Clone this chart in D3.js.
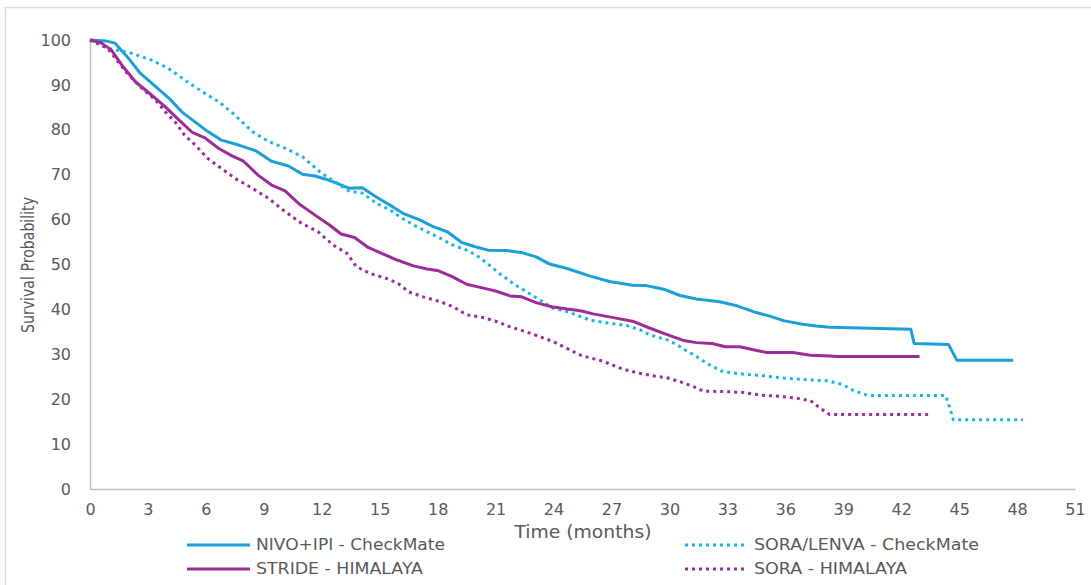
<!DOCTYPE html>
<html>
<head>
<meta charset="utf-8">
<script src="https://cdn.jsdelivr.net/npm/d3@7"></script>
<style>
  body { margin: 0; background: #fff; }
  text { font-family: "DejaVu Sans", "Noto Sans", sans-serif; fill: #595959; }
</style>
</head>
<body>
<div id="chart"></div>
<script>
// Kaplan-Meier curves (months, survival %)
const nivoMonths = [0, 0.8, 1.3, 2.0, 2.6, 3.4, 4.1, 4.75, 5.45, 6.1, 6.8, 7.7, 8.6, 9.4, 10.3, 11.0, 11.65, 12.2, 12.6, 13.4, 14.1, 14.8, 15.5, 16.2, 17.1, 17.8, 18.5, 19.25, 19.9, 20.6, 21.6, 22.4, 23.1, 23.8, 24.7, 25.9, 26.9, 28.1, 28.8, 29.7, 30.55, 31.4, 32.6, 33.5, 34.5, 35.2, 35.9, 36.9, 37.6, 38.3, 40.4, 42.5, 42.67, 44.45, 44.88, 47.8];
const nivoSurv = [100, 99.8, 99.3, 95.9, 92.6, 89.6, 87, 84, 81.7, 79.6, 77.7, 76.6, 75.3, 73, 71.9, 70.1, 69.7, 69, 68.4, 67, 67.1, 65.1, 63.3, 61.4, 59.9, 58.4, 57.3, 54.9, 54, 53.2, 53.1, 52.6, 51.7, 50.1, 49.1, 47.4, 46.2, 45.4, 45.3, 44.5, 43.1, 42.3, 41.7, 40.8, 39.3, 38.5, 37.5, 36.7, 36.3, 36, 35.8, 35.6, 32.4, 32.2, 28.7, 28.7];

const soraLenvaMonths = [0, 0.95, 2.2, 3.2, 4.05, 4.9, 5.8, 6.65, 7.5, 8.4, 9.25, 10.1, 11.0, 12.0, 13.4, 14.1, 14.85, 15.55, 16.05, 16.75, 17.45, 18.15, 18.8, 19.5, 20.0, 20.55, 21.2, 21.9, 22.6, 23.3, 24.0, 24.7, 25.4, 25.9, 26.9, 27.8, 28.5, 29.0, 29.9, 30.4, 30.8, 31.4, 32.1, 32.8, 33.8, 34.9, 35.9, 36.9, 38.2, 39.0, 39.5, 40.3, 44.3, 44.55, 44.7, 48.3];
const soraLenvaSurv = [100, 98.1, 97, 95.5, 93.7, 91.1, 88.5, 86.3, 83.3, 79.6, 77.4, 75.9, 74, 70.3, 66.4, 65.9, 63.6, 62.1, 60.6, 58.8, 57.3, 55.8, 54.3, 53.2, 52.1, 50.3, 48, 45.8, 43.9, 42.1, 40.2, 39.5, 38.4, 37.6, 36.9, 36.4, 35.4, 34.3, 33.2, 32.1, 31, 29.5, 27.6, 26.1, 25.6, 25.2, 24.7, 24.4, 24.1, 23.2, 22, 20.8, 20.8, 17.6, 15.4, 15.4];

const strideMonths = [0, 0.6, 1.1, 1.65, 2.35, 3.2, 3.9, 4.6, 5.3, 5.95, 6.65, 7.35, 7.95, 8.7, 9.4, 10.1, 10.8, 11.65, 12.4, 13.0, 13.7, 14.4, 15.1, 15.9, 16.75, 17.45, 18.05, 18.75, 19.5, 20.2, 21.0, 21.75, 22.35, 23.1, 23.9, 24.7, 25.4, 26.05, 27.3, 28.15, 29.0, 30.2, 30.8, 31.4, 32.2, 32.9, 33.65, 34.35, 35.05, 36.4, 37.3, 38.3, 38.7, 42.95];
const strideSurv = [100, 99.3, 97.8, 94.4, 90.7, 87.7, 85.1, 82.2, 79.4, 78.2, 75.9, 74.2, 73, 69.9, 67.7, 66.4, 63.6, 61, 58.8, 56.8, 56, 53.8, 52.5, 51, 49.7, 49, 48.6, 47.3, 45.6, 44.9, 44.1, 43, 42.8, 41.5, 40.6, 40.1, 39.7, 39, 38, 37.3, 35.8, 33.9, 33, 32.6, 32.4, 31.7, 31.7, 31, 30.4, 30.4, 29.8, 29.6, 29.5, 29.5];

const soraHimMonths = [0, 0.9, 1.45, 2.0, 2.7, 3.4, 3.9, 4.4, 4.9, 5.45, 6.1, 6.8, 7.5, 8.4, 9.25, 10.1, 10.95, 11.8, 12.6, 13.3, 13.8, 14.5, 15.35, 15.95, 16.5, 17.25, 18.15, 18.8, 19.5, 20.35, 21.05, 21.75, 22.6, 23.3, 24.0, 24.7, 25.4, 26.6, 27.45, 28.3, 29.15, 29.85, 30.55, 31.25, 31.75, 32.8, 33.85, 34.7, 35.55, 36.6, 37.3, 37.8, 38.3, 43.4];
const soraHimSurv = [100, 98.2, 95.2, 92.2, 89.2, 86.6, 84, 81.8, 78.8, 76.6, 73.6, 71.4, 69.2, 67, 64.7, 61.8, 59.2, 57.3, 54.3, 52.5, 49.5, 48, 46.9, 45.8, 43.9, 42.8, 41.7, 40.6, 38.8, 38.2, 37.3, 36.1, 35, 33.9, 32.8, 31.3, 29.8, 28.4, 26.9, 25.9, 25.2, 24.8, 23.9, 22.8, 21.8, 21.7, 21.5, 20.9, 20.7, 20.2, 19.7, 18, 16.6, 16.6];

const xTicks = d3.range(0, 52, 3);
const yTicks = d3.range(0, 101, 10);

const seriesNames = ["NIVO+IPI - CheckMate", "SORA/LENVA - CheckMate", "STRIDE - HIMALAYA", "SORA - HIMALAYA"];
const seriesColors = ["#1a9fd6", "#17b5ec", "#9d2b98", "#9d2b98"];
const seriesDotted = [false, true, false, true];

const width = 1091, height = 585;
const margin = { top: 40, right: 16, bottom: 96, left: 90 };

const svg = d3.select("#chart").append("svg")
  .attr("width", width)
  .attr("height", height);

// outer chart frame (only left and top edges are in view)
svg.append("path")
  .attr("d", `M5.5,${height} V7.5 H${width}`)
  .attr("fill", "none")
  .attr("stroke", "#d9d9d9")
  .attr("stroke-width", 1.5);

const x = d3.scaleLinear()
  .domain([0, 51])
  .range([margin.left, width - margin.right]);

const y = d3.scaleLinear()
  .domain([0, 100])
  .range([height - margin.bottom, margin.top]);

// x axis
const xAxis = svg.append("g")
  .attr("transform", `translate(0, ${y(0)})`)
  .call(d3.axisBottom(x).tickValues(xTicks).tickSize(0).tickPadding(15));
xAxis.select(".domain").attr("stroke", "#bfbfbf").attr("stroke-width", 1.5);
xAxis.selectAll("text")
  .style("font-family", "DejaVu Sans")
  .style("font-size", "16px")
  .attr("fill", "#595959");

// y axis
const yAxis = svg.append("g")
  .attr("transform", `translate(${x(0)}, 0)`)
  .call(d3.axisLeft(y).tickValues(yTicks).tickSize(0).tickPadding(19));
yAxis.select(".domain").attr("stroke", "#bfbfbf").attr("stroke-width", 1.5);
yAxis.selectAll("text")
  .style("font-family", "DejaVu Sans")
  .style("font-size", "16px")
  .attr("fill", "#595959");

// axis titles
svg.append("text")
  .attr("x", 583)
  .attr("y", 538)
  .attr("text-anchor", "middle")
  .attr("textLength", 137)
  .attr("lengthAdjust", "spacingAndGlyphs")
  .style("font-size", "17px")
  .text("Time (months)");

svg.append("text")
  .attr("transform", "rotate(-90)")
  .attr("x", -265)
  .attr("y", 34)
  .attr("text-anchor", "middle")
  .attr("textLength", 136)
  .attr("lengthAdjust", "spacingAndGlyphs")
  .style("font-size", "17px")
  .text("Survival Probability");

// curves
const allMonths = [nivoMonths, soraLenvaMonths, strideMonths, soraHimMonths];
const allSurv = [nivoSurv, soraLenvaSurv, strideSurv, soraHimSurv];

const line = d3.line()
  .x(d => x(d[0]))
  .y(d => y(d[1]));

allMonths.forEach((months, i) => {
  const pts = months.map((m, j) => [m, allSurv[i][j]]);
  svg.append("path")
    .datum(pts)
    .attr("fill", "none")
    .attr("stroke", seriesColors[i])
    .attr("stroke-width", 3)
    .attr("stroke-linejoin", "round")
    .attr("stroke-dasharray", seriesDotted[i] ? "3 4" : null)
    .attr("d", line);
});

// legend
const legendX = [187, 685];
const legendY = [545, 569];
const legendW = [189, 225, 167, 153];
seriesNames.forEach((name, i) => {
  const lx = legendX[i % 2 === 0 ? 0 : 1];
  const ly = legendY[i < 2 ? 0 : 1];
  svg.append("line")
    .attr("x1", lx)
    .attr("x2", lx + 63)
    .attr("y1", ly)
    .attr("y2", ly)
    .attr("stroke", seriesColors[i])
    .attr("stroke-width", 3)
    .attr("stroke-dasharray", seriesDotted[i] ? "3 4" : null);
  svg.append("text")
    .attr("x", lx + 69)
    .attr("y", ly)
    .attr("dy", "0.35em")
    .attr("textLength", legendW[i])
    .attr("lengthAdjust", "spacingAndGlyphs")
    .style("font-size", "15px")
    .text(name);
});
</script>
</body>
</html>
